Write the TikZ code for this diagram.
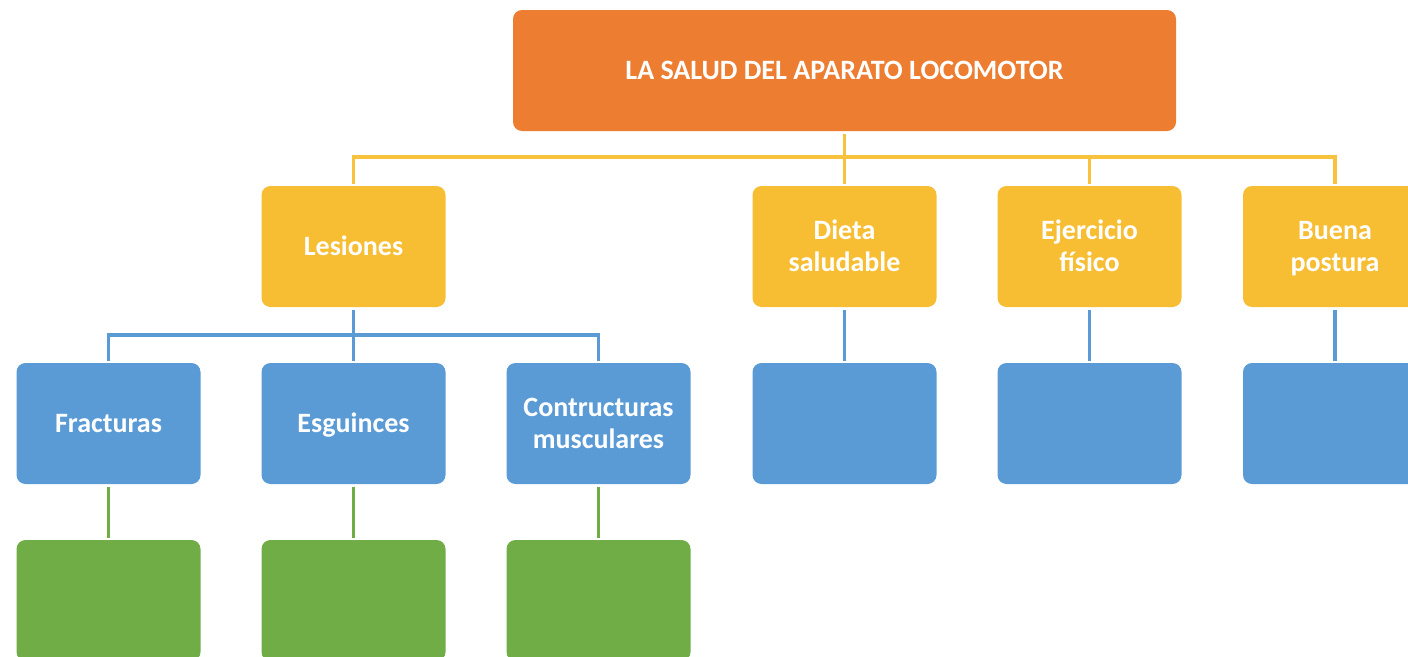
\documentclass[tikz,border=0pt]{standalone}
\usepackage{fontspec}
\setmainfont{Carlito}
\definecolor{orangeC}{HTML}{ED7D31}
\definecolor{yellowC}{HTML}{F7BE34}
\definecolor{yellowL}{HTML}{F9C23C}
\definecolor{blueC}{HTML}{5B9BD5}
\definecolor{greenC}{HTML}{70AD47}
\newcommand{\ls}[1]{\rule[-7pt]{0pt}{32pt}#1}
\tikzset{
  box/.style={rectangle, rounded corners=9pt, minimum width=184pt, minimum height=121pt,
    text=white, align=center, font=\fontsize{28}{32}\selectfont\bfseries, inner sep=0pt, outer sep=2.5pt},
  topbox/.style={box, fill=orangeC, minimum width=663pt},
  ybox/.style={box, fill=yellowC},
  bbox/.style={box, fill=blueC},
  gbox/.style={box, fill=greenC},
  yline/.style={draw=yellowL, line width=3.5pt},
  bline/.style={draw=blueC, line width=3.5pt},
  gline/.style={draw=greenC, line width=3.5pt},
}
\begin{document}
\begin{tikzpicture}[x=1pt,y=-1pt]
\useasboundingbox (0,0) rectangle (1408,656);
\clip (0,0) rectangle (1408,656);
% top
\node[topbox] (top) at (844.5,70.5) {\ls{LA SALUD DEL APARATO LOCOMOTOR}};
% yellow row
\node[ybox] (les) at (353.5,246.5) {\ls{Lesiones}};
\node[ybox] (dieta) at (844.5,246.5) {\ls{Dieta}\\\ls{saludable}};
\node[ybox] (ejer) at (1089.5,246.5) {\ls{Ejercicio}\\\ls{físico}};
\node[ybox] (buena) at (1335,246.5) {\ls{Buena}\\\ls{postura}};
% blue row
\node[bbox] (fra) at (108.5,423.5) {\ls{Fracturas}};
\node[bbox] (esg) at (353.5,423.5) {\ls{Esguinces}};
\node[bbox] (con) at (598.5,423.5) {\ls{Contructuras}\\\ls{musculares}};
\node[bbox] (b4) at (844.5,423.5) {};
\node[bbox] (b5) at (1089.5,423.5) {};
\node[bbox] (b6) at (1335,423.5) {};
% green row
\node[gbox] (g1) at (108.5,600.5) {};
\node[gbox] (g2) at (353.5,600.5) {};
\node[gbox] (g3) at (598.5,600.5) {};
% yellow connectors
\coordinate (ybus) at (844.5,157);
\draw[yline] (top.south) -- (ybus);
\draw[yline] (les.north) -- (les.north |- ybus) -- (buena.north |- ybus) -- (buena.north);
\draw[yline] (ybus) -- (dieta.north);
\draw[yline] (ejer.north |- ybus) -- (ejer.north);
% blue connectors
\coordinate (bbus) at (353.5,335);
\draw[bline] (les.south) -- (esg.north);
\draw[bline] (fra.north) -- (fra.north |- bbus) -- (con.north |- bbus) -- (con.north);
\draw[bline] (dieta.south) -- (b4.north);
\draw[bline] (ejer.south) -- (b5.north);
\draw[bline] (buena.south) -- (b6.north);
% green connectors
\draw[gline] (fra.south) -- (g1.north);
\draw[gline] (esg.south) -- (g2.north);
\draw[gline] (con.south) -- (g3.north);
\end{tikzpicture}
\end{document}
